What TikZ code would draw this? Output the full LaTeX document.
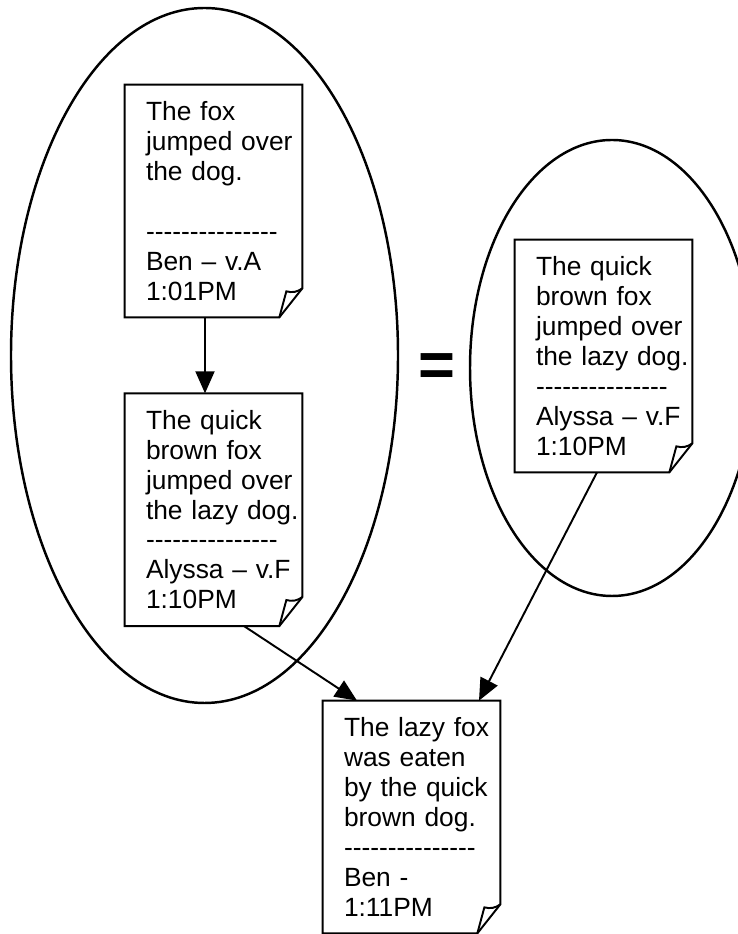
\documentclass[tikz,border=0pt]{standalone}
\usepackage{fontspec}
\newfontfamily\pagefont{Liberation Sans}[Ligatures=TeXOff]
\usetikzlibrary{arrows.meta,positioning,calc}

\newcommand{\sepline}{---------------}

\begin{document}
\begin{tikzpicture}
[page/.style={text width=3.1cm,align=left,inner sep=0pt,minimum height=4.64cm,
  font=\pagefont\fontsize{15}{17}\selectfont},
outline/.style={line width=1.1pt,line join=miter},
group/.style={line width=1.4pt},
myarrow/.style={line width=1.1pt,-{Triangle[length=0.44cm,width=0.38cm]}}]
\useasboundingbox (0,0) rectangle (14.76,18.68);
%%
\draw[group] (4.09,11.57) ellipse [x radius=3.87cm,y radius=6.95cm];
\draw[group] (12.24,11.32) ellipse [x radius=2.84cm,y radius=4.56cm];
%%
\node (p1) [page] at (4.47,14.66) {The fox\\jumped over\\the dog.\\\mbox{}\\\sepline\\Ben – v.A\\1:01PM};
\node (p2) [page,below=1.52cm of p1] {The quick\\brown fox\\jumped over\\the lazy dog.\\\sepline\\Alyssa – v.F\\1:10PM};
\node (p3) [page] at (12.27,11.56) {The quick\\brown fox\\jumped over\\the lazy dog.\\\sepline\\Alyssa – v.F\\1:10PM};
\node (p4) [page] at (8.43,2.34) {The lazy fox\\was eaten\\by the quick\\brown dog.\\\sepline\\Ben -\\1:11PM};
%% sheets with a turned-up corner
\foreach \p in {p1,p2,p3,p4}{
  \coordinate (se) at ($(\p.south east)+(0.02,0)$);
  \draw[outline] ($(\p.north west)+(-0.42,0)$) -- ($(\p.north east)+(0.02,0)$)
    -- ($(se)+(0,0.58)$) -- ($(se)+(-0.46,0)$) -- ($(\p.south west)+(-0.42,0)$) -- cycle;
  \draw[outline] ($(se)+(0,0.58)$) to[bend left=25] ($(se)+(-0.32,0.52)$) -- ($(se)+(-0.46,0)$);
}
%%
\node (eq) at (8.74,11.28) {\pagefont\fontsize{36}{36}\selectfont\bfseries =};
%%
\draw[myarrow] ([xshift=-0.37cm]p1.south) -- ([xshift=-0.37cm]p2.north);
\draw[myarrow] ([xshift=0.41cm]p2.south) -- ([xshift=-1.29cm]p4.north);
\draw[myarrow] ([xshift=-0.33cm]p3.south) -- ([xshift=1.15cm]p4.north);
\end{tikzpicture}
\end{document}
